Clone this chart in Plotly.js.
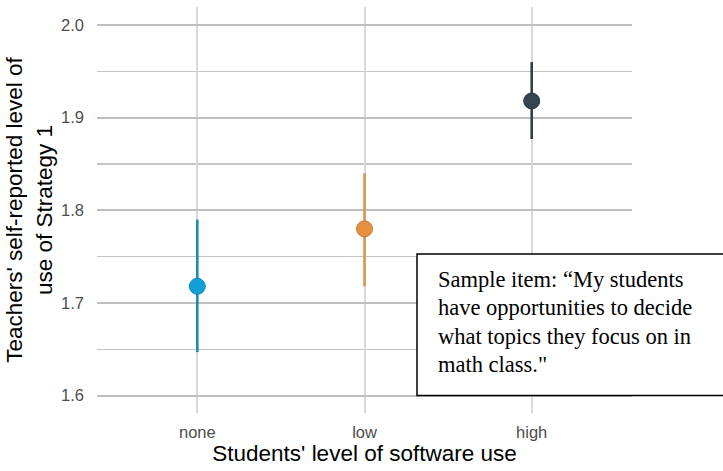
<!DOCTYPE html>
<html>
<head>
<meta charset="utf-8">
<script src="https://cdn.plot.ly/plotly-3.0.1.min.js"></script>
<style>html,body{margin:0;padding:0;background:#fff;}#chart{width:723px;height:471px;}</style>
</head>
<body>
<div id="chart"></div>
<script>
// ---- data ----
const categories = ['none', 'low', 'high'];
const means = [1.718, 1.780, 1.918];
const lower = [1.647, 1.718, 1.877];
const upper = [1.790, 1.840, 1.960];
const tickVals = [1.6, 1.7, 1.8, 1.9, 2.0];
const noteLines = [
  'Sample item: \u201cMy students',
  'have opportunities to decide',
  'what topics they focus on in',
  'math class."'
];

// ---- styles ----
const pointColors = ['#0fa0d8', '#e49040', '#33464f'];
const lineColors = ['#1b8db8', '#dc9455', '#2f4149'];
const outlineColors = ['#1288b8', '#c97d35', '#2a3a42'];

const traces = categories.map((c, i) => ({
  type: 'scatter',
  mode: 'markers',
  x: [c],
  y: [means[i]],
  marker: {size: 16, color: pointColors[i], line: {color: outlineColors[i], width: 1}},
  error_y: {
    type: 'data', symmetric: false,
    array: [upper[i] - means[i]],
    arrayminus: [means[i] - lower[i]],
    color: lineColors[i], thickness: 2.6, width: 0
  },
  showlegend: false,
  hoverinfo: 'x+y'
}));

const L = 97, R = 632, T = 7, B = 413;
const px = v => (v - L) / (R - L);
const py = v => (B - v) / (B - T);

const lineCenters = [279, 307.5, 336, 364.5];
const annotations = noteLines.map((t, i) => ({
  xref: 'paper', yref: 'paper',
  x: px(436), y: py(lineCenters[i]),
  xanchor: 'left', yanchor: 'middle',
  text: t, showarrow: false,
  font: {family: 'Liberation Serif, serif', size: 22.5, color: '#000'}
}));

const layout = {
  width: 723, height: 471,
  margin: {l: L, r: 723 - R, t: T, b: 471 - B},
  paper_bgcolor: '#fff', plot_bgcolor: '#fff',
  showlegend: false,
  font: {family: 'Liberation Sans, Arial, sans-serif'},
  xaxis: {
    type: 'category',
    categoryorder: 'array', categoryarray: categories,
    range: [-0.6, 2.6],
    showgrid: true, gridcolor: '#d9d9d9', gridwidth: 2,
    zeroline: false, showline: false, ticks: '',
    ticklabelstandoff: 7,
    tickfont: {size: 16.5, color: '#4d4d4d'},
    title: {text: "Students' level of software use", font: {size: 22.5, color: '#000'}, standoff: 5}
  },
  yaxis: {
    range: [1.5813, 2.0194],
    tickvals: tickVals, tickformat: '.1f',
    showgrid: true, gridcolor: '#bfbfbf', gridwidth: 1.8,
    minor: {dtick: 0.05, showgrid: true, gridcolor: '#c4c4c4', gridwidth: 1.4, ticks: ''},
    zeroline: false, showline: false, ticks: '',
    ticklabelstandoff: 12,
    tickfont: {size: 16.5, color: '#4d4d4d'},
    title: {text: "Teachers' self-reported level of<br>use of Strategy 1", font: {size: 22.5, color: '#000'}, standoff: 2}
  },
  shapes: [{
    type: 'rect', xref: 'paper', yref: 'paper',
    x0: px(417), x1: px(727), y0: py(395.5), y1: py(254),
    line: {color: '#000', width: 1.5}, fillcolor: '#fff', layer: 'above'
  }],
  annotations: annotations
};

Plotly.newPlot('chart', traces, layout, {displayModeBar: false, staticPlot: true});
</script>
</body>
</html>
